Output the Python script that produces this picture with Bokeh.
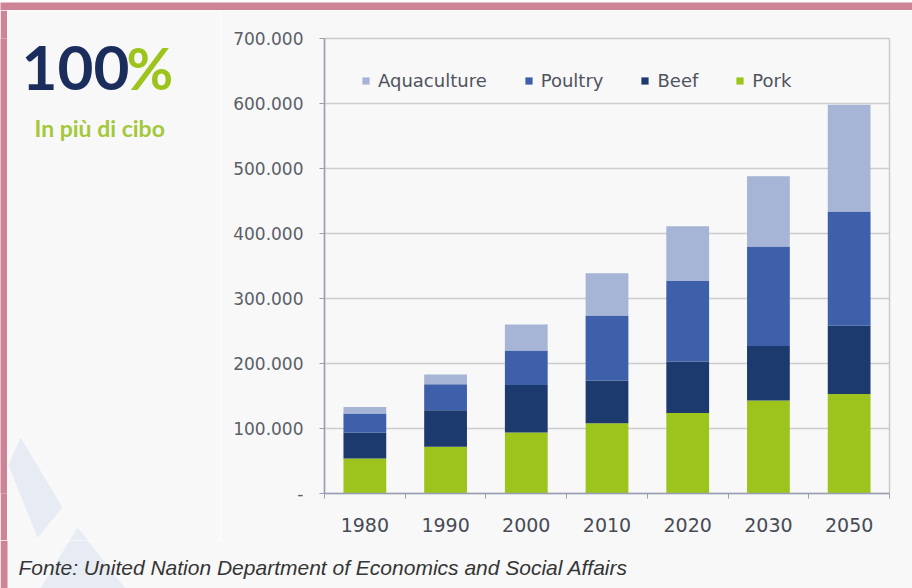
from bokeh.plotting import figure
from bokeh.layouts import column, row
from bokeh.models import Range1d, FixedTicker, Legend, LegendItem
from bokeh.core.properties import value
from bokeh.embed import file_html
from bokeh.resources import INLINE

years = ["1980", "1990", "2000", "2010", "2020", "2030", "2050"]
pork = [54000, 72000, 94000, 108000, 124000, 143000, 153000]
beef = [40000, 56000, 73000, 66000, 79000, 84000, 105000]
poultry = [29000, 40000, 53000, 100000, 124000, 153000, 176000]
aquaculture = [10000, 15000, 40000, 65000, 84000, 108000, 164000]
y_ticks = [0, 100000, 200000, 300000, 400000, 500000, 600000, 700000]
y_tick_labels = ["-", "100.000", "200.000", "300.000", "400.000", "500.000", "600.000", "700.000"]

series_names = ["Pork", "Beef", "Poultry", "Aquaculture"]
series_colors = ["#9cc41c", "#1d3a6e", "#3e5fa9", "#a6b5d5"]
legend_order = ["Aquaculture", "Poultry", "Beef", "Pork"]

headline = "100"
headline_pct = "%"
subtitle = "In più di cibo"
source_note = "Fonte: United Nation Department of Economics and Social Affairs"

BG = "#f8f8f8"
PINK = "#cd8497"
WATER = "#d3dbee"
WATER_ALPHA = 0.45

# main chart borders (its frame spans canvas x 324..889, y 38..493)
B_TOP, B_BOTTOM = 28, 47


def can_unalign(f):
    return "frame_align" in f.properties()


def blank(width, height, x0, x1, y_bottom, y_top, fill=BG, top=0, bottom=0):
    f = figure(width=width, height=height, output_backend="svg", toolbar_location=None,
               x_range=Range1d(x0, x1), y_range=Range1d(y_bottom, y_top),
               x_axis_type=None, y_axis_type=None,
               min_border_left=0, min_border_right=0,
               min_border_top=top, min_border_bottom=bottom)
    f.background_fill_color = fill
    f.border_fill_color = fill
    f.outline_line_color = None
    f.grid.visible = False
    if can_unalign(f):
        f.frame_align = False
    return f


# ---- top pink strip (canvas y 0..10) ----
top_strip = blank(912, 10, 0, 912, 10, 0, fill=PINK)

# ---- left pink strip (canvas x 0..7, y 10..540) ----
left_strip = blank(7, 530, 0, 7, 540, 10, fill=PINK, top=B_TOP, bottom=B_BOTTOM)

# ---- left text panel (canvas x 7..220, y 10..540); data coords = canvas pixels ----
left = blank(213, 530, 7, 220, 540, 10)
if not can_unalign(left):
    left.min_border_top = B_TOP
    left.min_border_bottom = B_BOTTOM
    left.y_range = Range1d(540 - B_BOTTOM, 10 + B_TOP)
left.patch([20, 62, 37, 8], [437, 507, 537, 465], color=WATER, line_color=None, alpha=WATER_ALPHA)
left.patch([77, 125, 40], [527, 588, 588], color=WATER, line_color=None, alpha=WATER_ALPHA)
left.text(x=[21], y=[67], text=[headline], text_font=value("Lato"), text_font_style="bold",
          text_font_size="62px", text_color="#1b2d5c", text_baseline="middle")
left.text(x=[126], y=[67], text=[headline_pct], text_font=value("Lato"), text_font_style="bold",
          text_font_size="57px", text_color="#9cc41c", text_baseline="middle")
left.text(x=[34], y=[127], text=[subtitle], text_font=value("Lato"), text_font_style="bold",
          text_font_size="23px", text_color="#a3c83a", text_baseline="middle")

# ---- main chart (canvas x 220..912, y 10..540) ----
xs = [i + 0.5 for i in range(len(years))]
data = dict(x=xs, Pork=pork, Beef=beef, Poultry=poultry, Aquaculture=aquaculture)

p = figure(width=692, height=530, output_backend="svg", toolbar_location=None,
           x_range=Range1d(0, len(years)), y_range=Range1d(0, 700000),
           min_border_left=104, min_border_right=23, min_border_top=B_TOP,
           min_border_bottom=B_BOTTOM)
if can_unalign(p):
    p.frame_align = False
p.background_fill_color = BG
p.border_fill_color = BG
p.outline_line_color = "#c9c9c9"
p.outline_line_width = 1.5

renderers = p.vbar_stack(series_names, x="x", width=0.53, color=series_colors,
                         source=data, line_color=None)
rmap = dict(zip(series_names, renderers))

p.xaxis.ticker = FixedTicker(ticks=xs, minor_ticks=list(range(len(years) + 1)))
p.xaxis.major_label_overrides = {x: y for x, y in zip(xs, years)}
p.xaxis.major_tick_out = 0
p.xaxis.major_tick_in = 0
p.xaxis.minor_tick_out = 5
p.xaxis.minor_tick_in = 0
p.xaxis.minor_tick_line_color = "#9a9fb5"
p.xaxis.axis_line_color = "#9a9fb5"
p.xaxis.axis_line_width = 1.5
p.xaxis.major_label_standoff = 19
p.xaxis.major_label_text_font = "DejaVu Sans"
p.xaxis.major_label_text_font_size = "19px"
p.xaxis.major_label_text_color = "#474b55"

p.yaxis.ticker = FixedTicker(ticks=y_ticks)
p.yaxis.major_label_overrides = {t: l for t, l in zip(y_ticks, y_tick_labels)}
p.yaxis.major_tick_out = 5
p.yaxis.major_tick_in = 0
p.yaxis.major_tick_line_color = "#9a9fb5"
p.yaxis.axis_line_color = "#9a9fb5"
p.yaxis.axis_line_width = 1.5
p.yaxis.minor_tick_line_color = None
p.yaxis.major_label_standoff = 16
p.yaxis.major_label_text_font = "DejaVu Sans"
p.yaxis.major_label_text_font_size = "17px"
p.yaxis.major_label_text_color = "#5a5e68"

p.xgrid.grid_line_color = None
p.ygrid.ticker = FixedTicker(ticks=y_ticks)
p.ygrid.grid_line_color = "#cccccc"
p.ygrid.grid_line_width = 1.5

legend = Legend(items=[LegendItem(label=n, renderers=[rmap[n]]) for n in legend_order],
                orientation="horizontal", location=(37, 402))
legend.background_fill_alpha = 0
legend.border_line_color = None
legend.label_text_font = "DejaVu Sans"
legend.label_text_font_size = "18px"
legend.label_text_color = "#4f535d"
legend.glyph_width = 9
legend.glyph_height = 9
legend.spacing = 37
legend.label_standoff = 8
p.add_layout(legend)

# ---- footer (canvas x 0..912, y 540..588) ----
foot = blank(912, 48, 0, 912, 588, 540)
foot.quad(left=[0], right=[7], top=[540], bottom=[588], color=PINK, line_color=None)
foot.patch([20, 62, 37, 8], [437, 507, 537, 465], color=WATER, line_color=None, alpha=WATER_ALPHA)
foot.patch([77, 125, 40], [527, 588, 588], color=WATER, line_color=None, alpha=WATER_ALPHA)
foot.text(x=[18], y=[567], text=[source_note], text_font=value("Liberation Sans"),
          text_font_style="italic", text_font_size="21px", text_color="#353535",
          text_baseline="middle")

layout = column(top_strip, row(left_strip, left, p, spacing=0), foot, spacing=0)

open("out.html", "w").write(file_html(layout, INLINE))
